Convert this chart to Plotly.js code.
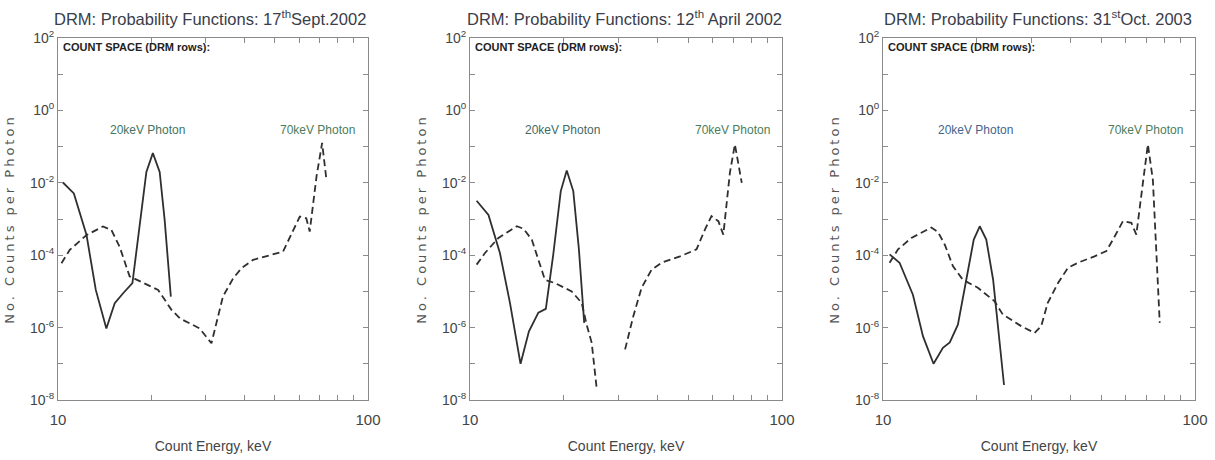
<!DOCTYPE html>
<html>
<head>
<meta charset="utf-8">
<script src="https://cdn.plot.ly/plotly-3.0.1.min.js"></script>
<style>
  html, body { margin: 0; padding: 0; background: #fff; }
  #chart { width: 1215px; height: 460px; }
  .ytitle, .y2title, .y3title { letter-spacing: 3px; }
</style>
</head>
<body>
<div id="chart"></div>
<script>
// ---- Data ----
const panelTitles = [
  "DRM: Probability Functions: 17<sup>th</sup>Sept.2002",
  "DRM: Probability Functions: 12<sup>th</sup> April 2002",
  "DRM: Probability Functions: 31<sup>st</sup>Oct. 2003"
];
const boxLabel = "COUNT SPACE (DRM rows):";
const peakLabels = ["20keV Photon", "70keV Photon"];
const xTickVals = [10, 20, 30, 40, 50, 60, 70, 80, 90, 100];
const xTickText = ["10", "", "", "", "", "", "", "", "", "100"];
const yTickVals = [1e-8, 1e-7, 1e-6, 1e-5, 1e-4, 1e-3, 1e-2, 1e-1, 1, 10, 100];
const yTickText = ["10<sup>-8</sup>", "", "10<sup>-6</sup>", "", "10<sup>-4</sup>", "", "10<sup>-2</sup>", "", "10<sup>0</sup>", "", "10<sup>2</sup>"];

// Panel 1: 17 Sept 2002
const e1Solid = [10.37, 11.25, 12.36, 13.24, 14.32, 15.24, 16.22, 17.38, 19.28, 20.23, 21.28, 22.08, 23.12];
const c1Solid = [1.02e-2, 5.1e-3, 3.6e-4, 1.1e-5, 9.5e-7, 4.7e-6, 8.9e-6, 1.7e-5, 2.0e-2, 6.6e-2, 2.0e-2, 9.5e-4, 7.2e-6];
const e1Dash = [10.26, 10.91, 12.36, 13.96, 14.86, 15.81, 17.02, 18.37, 21.04, 23.23, 24.72, 28.64, 31.26, 34.04, 36.73, 39.08, 42.56, 53.21, 57.28, 60.26, 63.24, 64.86, 68.23, 71.12, 73.45];
const c1Dash = [6.0e-5, 1.4e-4, 3.6e-4, 6.2e-4, 5.0e-4, 1.7e-4, 2.6e-5, 1.9e-5, 1.1e-5, 3.1e-6, 1.8e-6, 9.5e-7, 3.7e-7, 7.2e-6, 2.3e-5, 4.4e-5, 7.4e-5, 1.26e-4, 5.0e-4, 1.17e-3, 1.05e-3, 4.5e-4, 1.5e-2, 0.126, 1.2e-2];

// Panel 2: 12 April 2002
const e2Solid = [10.5, 11.46, 12.47, 13.43, 14.52, 15.45, 16.56, 17.5, 18.49, 19.54, 20.42, 21.43, 22.34, 23.23];
const c2Solid = [3.2e-3, 1.3e-3, 1.15e-4, 4.8e-6, 1.0e-7, 7.9e-7, 2.6e-6, 3.3e-6, 1.05e-4, 5.9e-3, 2.2e-2, 5.9e-3, 1.45e-4, 1.35e-6];
const e2Dash = [10.5, 11.17, 12.33, 14.13, 14.83, 15.78, 17.38, 18.71, 21.18, 22.8, 23.66, 24.55, 25.47, 28.2, 31.41, 33.34, 35.48, 38.19, 41.11, 47.1, 53.21, 56.62, 59.43, 62.52, 64.86, 68.08, 70.63, 74.3];
const c2Dash = [5.5e-5, 1.15e-4, 3.0e-4, 6.3e-4, 5.4e-4, 2.7e-4, 2.1e-5, 1.7e-5, 1.0e-5, 4.8e-6, 1.2e-6, 3.8e-7, 2.1e-8, null, 2.5e-7, 2.0e-6, 1.26e-5, 4.0e-5, 6.2e-5, 9.3e-5, 1.45e-4, 5.1e-4, 1.2e-3, 8.7e-4, 3.7e-4, 1.9e-2, 0.115, 1.0e-2];

// Panel 3: 31 Oct 2003
const e3Solid = [10.5, 11.3, 12.47, 13.43, 14.52, 15.56, 16.37, 17.38, 18.49, 19.54, 20.42, 21.43, 22.54, 24.43];
const c3Solid = [1.05e-4, 6.2e-5, 8.1e-6, 5.8e-7, 1.0e-7, 2.75e-7, 3.9e-7, 1.2e-6, 2.1e-5, 2.7e-4, 6.3e-4, 2.7e-4, 2.1e-5, 2.6e-8];
const e3Dash = [10.5, 11.17, 12.33, 14.29, 15.0, 15.78, 16.75, 18.03, 20.14, 22.75, 24.21, 27.73, 30.62, 32.14, 33.73, 36.39, 39.17, 42.17, 47.64, 52.0, 54.58, 58.75, 62.52, 64.86, 68.08, 70.63, 73.28, 77.09];
const c3Dash = [6.2e-5, 1.45e-4, 3.0e-4, 5.8e-4, 4.4e-4, 1.95e-4, 5.0e-5, 2.1e-5, 1.26e-5, 5.4e-6, 2.3e-6, 1.1e-6, 7.1e-7, 1.1e-6, 4.8e-6, 1.7e-5, 4.5e-5, 6.2e-5, 9.3e-5, 1.3e-4, 2.7e-4, 8.7e-4, 7.8e-4, 3.7e-4, 1.0e-2, 0.115, 1.2e-2, 1.35e-6];

const peakLabelX = [[19.45, 68.9], [19.77, 69.3], [19.8, 69.2]];
const peakLabelY = 0.29;
const peakColors = [["#3f7560", "#4b7d5a"], ["#3f6a66", "#4b7d5a"], ["#45658c", "#4b7d5a"]];

// ---- Build chart ----
const solids = [[e1Solid, c1Solid], [e2Solid, c2Solid], [e3Solid, c3Solid]];
const dashes = [[e1Dash, c1Dash], [e2Dash, c2Dash], [e3Dash, c3Dash]];
const W = 1215, H = 460;
const xDomainsPx = [[58, 368], [470, 782], [883, 1195]];
const yDomain = [1 - 400 / H, 1 - 38 / H];
const titleCentersPx = [210, 624, 1038];
const lineColor = "#2f2f2f";
const sans = "Liberation Sans, Arial, sans-serif";

const traces = [];
const layout = {
  width: W, height: H,
  margin: {l: 0, r: 0, t: 0, b: 0},
  paper_bgcolor: "#fff", plot_bgcolor: "#fff",
  showlegend: false,
  annotations: []
};

for (let i = 0; i < 3; i++) {
  const sfx = i === 0 ? "" : String(i + 1);
  const xa = "x" + sfx, ya = "y" + sfx;
  traces.push({
    x: solids[i][0], y: solids[i][1], xaxis: xa, yaxis: ya,
    type: "scatter", mode: "lines",
    line: {color: lineColor, width: 1.8}, hoverinfo: "skip"
  });
  traces.push({
    x: dashes[i][0], y: dashes[i][1], xaxis: xa, yaxis: ya,
    type: "scatter", mode: "lines", connectgaps: false,
    line: {color: lineColor, width: 1.8, dash: "7px,4px"}, hoverinfo: "skip"
  });
  const common = {
    showline: true, linecolor: "#8a8a8a", linewidth: 1, mirror: "ticks",
    ticks: "inside", ticklen: 5, tickcolor: "#8a8a8a", tickwidth: 1,
    showgrid: false, zeroline: false, fixedrange: true
  };
  layout["xaxis" + sfx] = Object.assign({}, common, {
    type: "log", range: [1, 2],
    domain: [xDomainsPx[i][0] / W, xDomainsPx[i][1] / W],
    anchor: ya,
    tickmode: "array", tickvals: xTickVals, ticktext: xTickText,
    ticklabelstandoff: 6,
    tickfont: {family: sans, size: 15, color: "#444"},
    title: {text: "Count Energy, keV", font: {family: sans, size: 14, color: "#444"}, standoff: 14}
  });
  layout["yaxis" + sfx] = Object.assign({}, common, {
    type: "log", range: [-8, 2],
    domain: yDomain,
    anchor: xa,
    tickmode: "array", tickvals: yTickVals, ticktext: yTickText,
    tickfont: {family: sans, size: 14, color: "#444"},
    title: {text: "No. Counts per Photon", font: {family: "DejaVu Sans, sans-serif", size: 13, color: "#555"}, standoff: 12}
  });
  layout.annotations.push({
    text: panelTitles[i], xref: "paper", yref: "paper",
    x: titleCentersPx[i] / W, y: 1 - 18 / H, xanchor: "center", yanchor: "middle",
    showarrow: false, font: {family: sans, size: 16.5, color: "#3a3d4a"}
  });
  layout.annotations.push({
    text: "<b>" + boxLabel + "</b>", xref: xa + " domain", yref: ya + " domain",
    x: 0.01, y: 1, xanchor: "left", yanchor: "top", yshift: -1,
    showarrow: false, font: {family: sans, size: 11, color: "#222"}
  });
  for (let k = 0; k < 2; k++) {
    layout.annotations.push({
      text: peakLabels[k], xref: xa, yref: ya,
      x: Math.log10(peakLabelX[i][k]), y: Math.log10(peakLabelY),
      xanchor: "center", yanchor: "middle", showarrow: false,
      font: {family: sans, size: 12, color: peakColors[i][k]}
    });
  }
}

Plotly.newPlot("chart", traces, layout, {staticPlot: true, displayModeBar: false});
</script>
</body>
</html>
